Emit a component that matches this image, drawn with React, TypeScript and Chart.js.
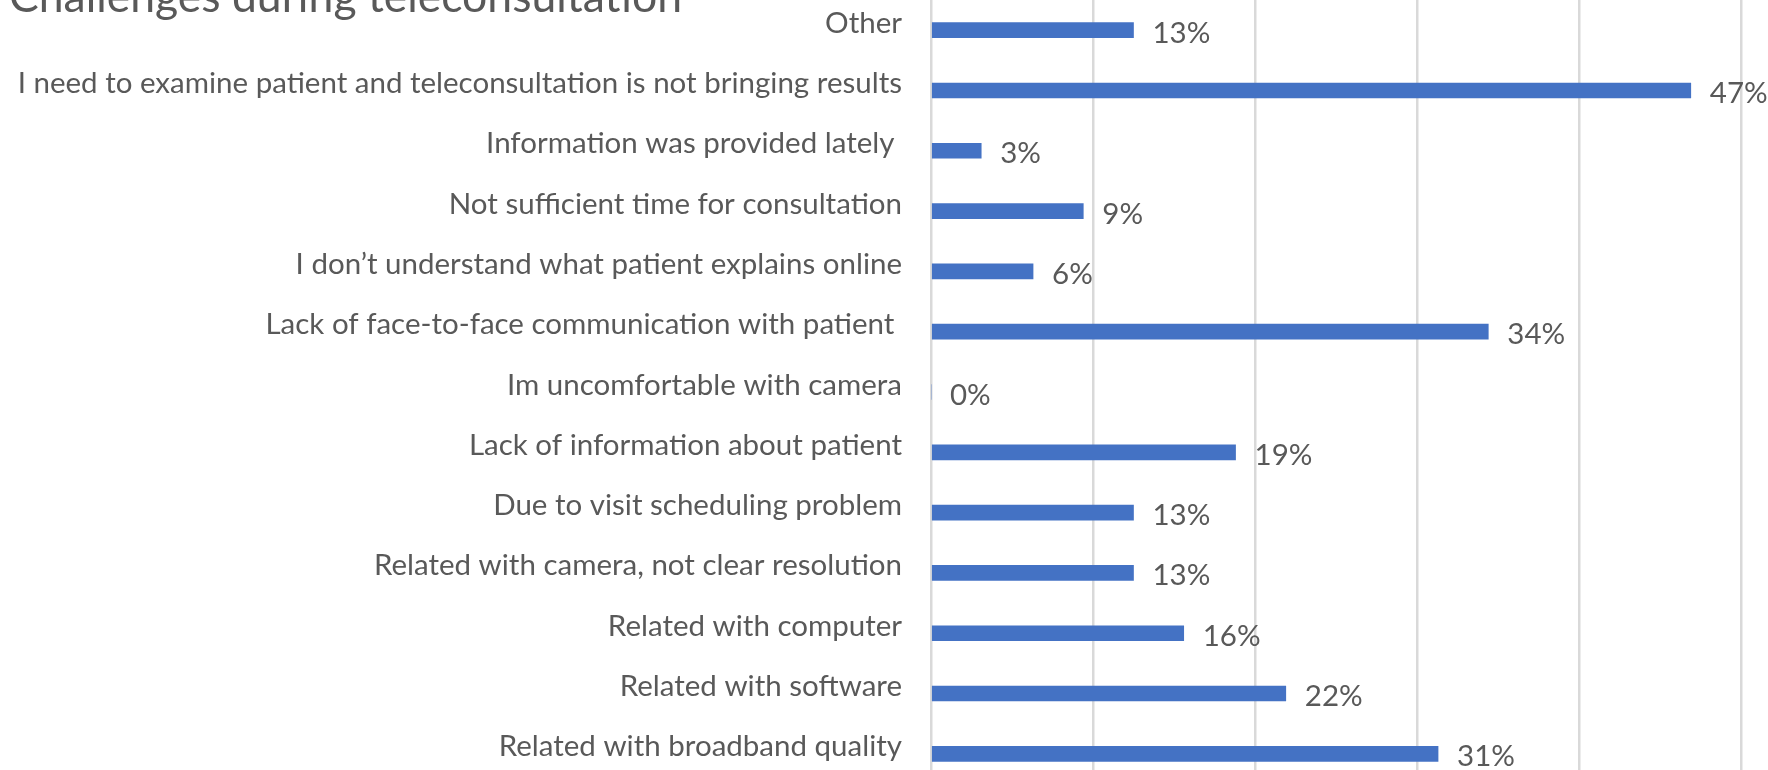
import React, { useEffect, useRef } from "react";
import { Chart, registerables } from "chart.js";

Chart.register(...registerables);

const TITLE = "Challenges during teleconsultation";

const categories: string[] = [
  "Other",
  "I need to examine patient and teleconsultation is not bringing results",
  "Information was provided lately ",
  "Not sufficient time for consultation",
  "I don\u2019t understand what patient explains online",
  "Lack of face-to-face communication with patient ",
  "Im uncomfortable with camera",
  "Lack of information about patient",
  "Due to visit scheduling problem",
  "Related with camera, not clear resolution",
  "Related with computer",
  "Related with software",
  "Related with broadband quality",
];

// percentages as drawn (labels show them rounded to whole %)
const shares: number[] = [12.5, 46.9, 3.1, 9.4, 6.3, 34.4, 0, 18.8, 12.5, 12.5, 15.6, 21.9, 31.3];

const xTicks: number[] = [0, 10, 20, 30, 40, 50];

const FONT = "Lato, 'Open Sans', sans-serif";
const TEXT = "#595959";
const BLUE = "#4472C4";
const GRID = "#D9D9D9";

const titlePlugin = {
  id: "croppedTitle",
  afterDraw(chart: any) {
    const ctx = chart.ctx;
    ctx.save();
    ctx.fillStyle = TEXT;
    ctx.font = `44.5px ${FONT}`;
    ctx.textAlign = "left";
    ctx.textBaseline = "alphabetic";
    ctx.fillText(TITLE, 9, 12);
    ctx.restore();
  },
};

const valueLabelPlugin = {
  id: "valueLabels",
  afterDatasetsDraw(chart: any) {
    const ctx = chart.ctx;
    const meta = chart.getDatasetMeta(0);
    ctx.save();
    ctx.fillStyle = TEXT;
    ctx.font = `29.5px ${FONT}`;
    ctx.textAlign = "left";
    ctx.textBaseline = "middle";
    meta.data.forEach((el: any, i: number) => {
      ctx.fillText(`${Math.round(shares[i])}%`, el.x + 19, el.y + 3);
    });
    ctx.restore();
  },
};

export default function App() {
  const ref = useRef<HTMLCanvasElement | null>(null);

  useEffect(() => {
    if (!ref.current) return;
    const chart = new Chart(ref.current, {
      type: "bar",
      data: {
        labels: categories,
        datasets: [
          {
            data: shares,
            backgroundColor: BLUE,
            borderWidth: 0,
            barThickness: 15,
          },
        ],
      },
      options: {
        indexAxis: "y",
        responsive: false,
        animation: false,
        devicePixelRatio: 1,
        layout: { padding: { left: 0, right: 27, top: 0, bottom: 0 } },
        plugins: {
          legend: { display: false },
          tooltip: { enabled: false },
          title: { display: false },
        },
        scales: {
          x: {
            min: 0,
            max: 50,
            afterBuildTicks: (scale: any) => {
              scale.ticks = xTicks.map((v) => ({ value: v }));
            },
            ticks: { display: false },
            grid: { color: GRID, lineWidth: 2.5, drawTicks: false },
            border: { display: false },
          },
          y: {
            ticks: {
              color: TEXT,
              font: { family: FONT, size: 29.5 },
              padding: 29,
              labelOffset: -7,
            },
            grid: { display: false, drawTicks: false },
            border: { display: false },
            afterFit: (scale: any) => {
              scale.width = 931;
              scale.paddingTop = 0;
              scale.paddingBottom = 0;
            },
          },
        },
      },
      plugins: [titlePlugin, valueLabelPlugin],
    });
    return () => chart.destroy();
  }, []);

  return (
    <div style={{ position: "fixed", left: 0, top: 0, width: 1768, height: 784, background: "#fff" }}>
      <canvas ref={ref} width={1768} height={784} style={{ display: "block" }} />
    </div>
  );
}
